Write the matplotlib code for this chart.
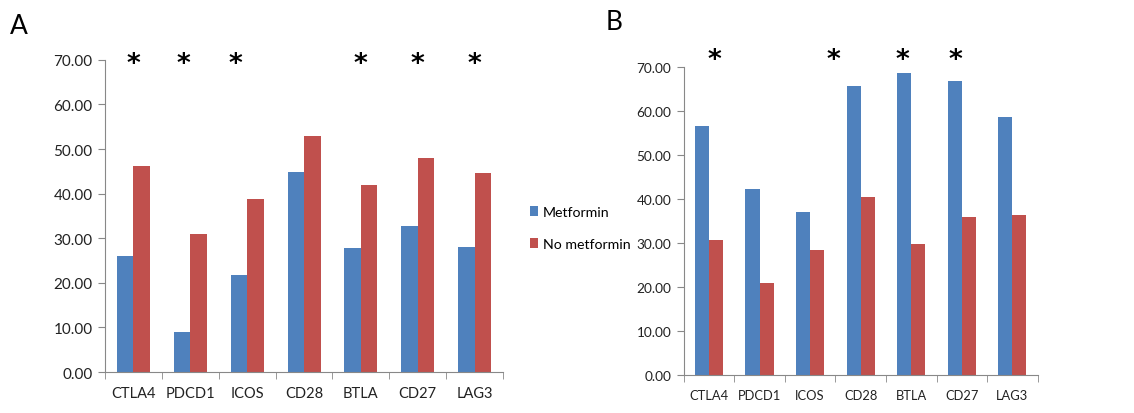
import numpy as np
import matplotlib
matplotlib.use('Agg')
import matplotlib.pyplot as plt

plt.rcParams['font.family'] = ['Lato', 'DejaVu Sans']

genes = ['CTLA4', 'PDCD1', 'ICOS', 'CD28', 'BTLA', 'CD27', 'LAG3']

# panel A
a_met = [26.1, 9.0, 21.8, 44.8, 27.9, 32.8, 28.1]
a_nomet = [46.3, 31.0, 38.7, 53.0, 41.9, 48.0, 44.6]
a_sig = ['CTLA4', 'PDCD1', 'ICOS', 'BTLA', 'CD27', 'LAG3']

# panel B
b_met = [56.5, 42.2, 37.0, 65.7, 68.6, 66.9, 58.6]
b_nomet = [30.7, 20.9, 28.4, 40.5, 29.8, 35.8, 36.4]
b_sig = ['CTLA4', 'CD28', 'BTLA', 'CD27']

blue = '#4F81BD'
red = '#C0504D'

fig = plt.figure(figsize=(11.34, 4.14), dpi=100)
axA = fig.add_axes([0.0926, 0.099, 0.351, 0.754])
axB = fig.add_axes([0.603, 0.092, 0.312, 0.744])


def draw(ax, met, nomet, sig, w, star_y, shift, fs):
    x = np.arange(len(genes))
    ax.bar(x - w / 2, met, w, color=blue, label='Metformin')
    ax.bar(x + w / 2, nomet, w, color=red, label='No metformin')
    ax.set_xlim(-0.5, len(genes) - 0.5)
    ax.set_ylim(0, 70)
    ax.set_yticks(np.arange(0, 71, 10))
    ax.set_yticklabels(['%.2f' % v for v in np.arange(0, 71, 10)])
    ax.set_xticks(x)
    ax.set_xticklabels(genes)
    ax.set_xticks(np.arange(-0.5, len(genes), 1), minor=True)
    ax.tick_params(axis='x', which='major', length=0, pad=10, labelsize=fs - 0.5, colors='#222222')
    ax.tick_params(axis='x', which='minor', length=5, color='#888888')
    ax.tick_params(axis='y', length=5, color='#888888', labelsize=fs, labelcolor='#222222', pad=4)
    for s in ['top', 'right']:
        ax.spines[s].set_visible(False)
    for s in ['left', 'bottom']:
        ax.spines[s].set_color('#888888')
    for g in sig:
        i = genes.index(g) + shift.get(g, 0)
        ax.text(i, star_y, '*', ha='center', va='center', fontsize=19,
                fontweight='bold', family='DejaVu Sans', clip_on=False)


draw(axA, a_met, a_nomet, a_sig, 0.29, 69.0, {'PDCD1': -0.12, 'ICOS': -0.2}, 11)
draw(axB, b_met, b_nomet, b_sig, 0.28, 71.6,
     {'CTLA4': 0.1, 'CD28': -0.55, 'BTLA': -0.17, 'CD27': -0.13}, 9.8)

fig.text(0.009, 0.935, 'A', fontsize=19, va='center')
fig.text(0.534, 0.945, 'B', fontsize=19, va='center')

h, l = axA.get_legend_handles_labels()
fig.legend(h, l, loc='center left', bbox_to_anchor=(0.456, 0.447), frameon=False,
           handlelength=0.55, handleheight=0.7, handletextpad=0.35, labelspacing=1.45,
           fontsize=10.2)

fig.savefig('out.png', dpi=100)
